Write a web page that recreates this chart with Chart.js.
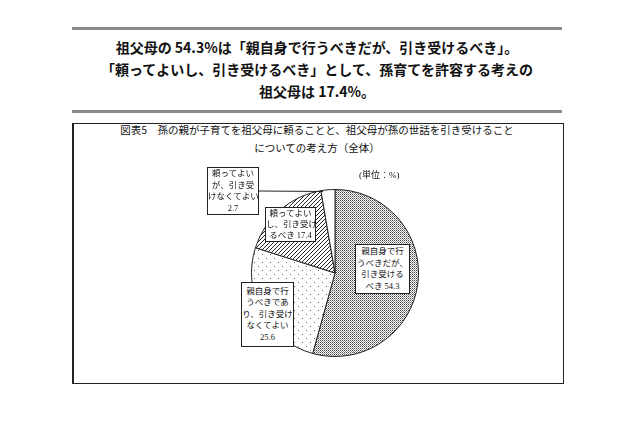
<!DOCTYPE html>
<html lang="ja">
<head>
<meta charset="utf-8">
<script src="https://cdn.jsdelivr.net/npm/chart.js@4"></script>
<style>
  body { margin: 0; background: #fff; width: 640px; height: 426px; position: relative; overflow: hidden;
         font-family: "Noto Sans CJK JP", "Noto Sans", sans-serif; color: #111; }
  .rule { position: absolute; left: 72px; width: 490px; height: 3px; background: #8a8a8a; }
  #headline { position: absolute; left: 72px; width: 490px; top: 36px; text-align: center;
              font-weight: bold; font-size: 14px; line-height: 22px; }
  #frame { position: absolute; left: 72px; top: 123px; width: 489px; height: 259px; border: 1px solid #222; border-left-width: 2px; }
  #fig-title { position: absolute; left: 72px; width: 490px; top: 121px; text-align: center;
               font-size: 10.5px; line-height: 18px; }
  #chart-wrap { position: absolute; left: 200px; top: 160px; width: 240px; height: 200px; }
  .lbl { position: absolute; background: #fff; border: 1px solid #222; box-sizing: border-box;
         font-family: "Liberation Serif", "Noto Sans CJK JP", serif; font-size: 8.5px; line-height: 11px;
         text-align: center; display: flex; flex-direction: column; justify-content: center; white-space: nowrap; }
  .lbl span { display: block; height: 11.5px; }
  #unit { position: absolute; font-family: "Liberation Serif", "Noto Sans CJK JP", serif; font-size: 9px; }
</style>
</head>
<body>
<div class="rule" style="top:27px"></div>
<div id="headline">祖父母の 54.3%は「親自身で行うべきだが、引き受けるべき」。<br>「頼ってよいし、引き受けるべき」として、孫育てを許容する考えの<br>祖父母は 17.4%。</div>
<div class="rule" style="top:110px"></div>
<div id="frame"></div>
<div id="fig-title">図表5　孫の親が子育てを祖父母に頼ることと、祖父母が孫の世話を引き受けること<br>についての考え方（全体）</div>
<div id="chart-wrap"><canvas id="pie"></canvas></div>
<div id="labels"></div>
<div id="unit">(単位：%)</div>
<script>
// slices clockwise from 12 o'clock
const categories = [
  '親自身で行うべきだが、引き受けるべき',
  '親自身で行うべきであり、引き受けなくてよい',
  '頼ってよいし、引き受けるべき',
  '頼ってよいが、引き受けなくてよい'
];
const shares = [54.3, 25.6, 17.4, 2.7];
const labelLines = [
  ['親自身で行', 'うべきだが、', '引き受ける', 'べき 54.3'],
  ['親自身で行', 'うべきであ', 'り、引き受け', 'なくてよい', '25.6'],
  ['頼ってよい', 'し、引き受け', 'るべき 17.4'],
  ['頼ってよい', 'が、引き受', 'けなくてよい', '2.7']
];

// label boxes relative to pie centre: [dx, dy, w, h]
const boxPos = [
  [20, -29, 55, 50],
  [-94, 9, 53, 65],
  [-70, -66, 51, 35],
  [-128, -106, 52, 48]
];

function makePattern(size, draw) {
  const c = document.createElement('canvas');
  c.width = c.height = size;
  const g = c.getContext('2d');
  g.fillStyle = '#fff';
  g.fillRect(0, 0, size, size);
  draw(g);
  return g.createPattern(c, 'repeat');
}

const denseDots = makePattern(2, g => { g.fillStyle = '#444'; g.fillRect(0, 0, 1, 1); g.fillStyle = '#999'; g.fillRect(1, 1, 1, 1); });
const sparseDots = makePattern(8, g => { g.fillStyle = '#666'; g.fillRect(2, 2, 1, 1); g.fillRect(6, 6, 1, 1); });
const hatch = makePattern(4, g => {
  g.strokeStyle = '#222'; g.lineWidth = 1;
  g.beginPath(); g.moveTo(-1, 5); g.lineTo(5, -1); g.stroke();
});

const labelsEl = document.getElementById('labels');
const boxes = labelLines.map(lines => {
  const d = document.createElement('div');
  d.className = 'lbl';
  d.innerHTML = lines.map(l => `<span>${l}</span>`).join('');
  labelsEl.appendChild(d);
  return d;
});

const calloutPlugin = {
  id: 'callouts',
  afterDraw(chart) {
    const arcs = chart.getDatasetMeta(0).data;
    if (!arcs.length) return;
    const wrap = document.getElementById('chart-wrap');
    const ox = wrap.offsetLeft, oy = wrap.offsetTop;
    const cx = arcs[0].x, cy = arcs[0].y;
    boxes.forEach((el, i) => {
      const [dx, dy, w, h] = boxPos[i];
      el.style.left = (ox + cx + dx) + 'px';
      el.style.top = (oy + cy + dy) + 'px';
      el.style.width = w + 'px';
      el.style.height = h + 'px';
    });
    const unit = document.getElementById('unit');
    unit.style.left = (ox + cx + 24) + 'px';
    unit.style.top = (oy + cy - 105) + 'px';

    // leader line for the small slice
    const a = arcs[3];
    const mid = (a.startAngle + a.endAngle) / 2;
    const ex = a.x + Math.cos(mid) * a.outerRadius * 0.98;
    const ey = a.y + Math.sin(mid) * a.outerRadius * 0.98;
    const [dx, dy, w, h] = boxPos[3];
    const ctx = chart.ctx;
    ctx.save();
    ctx.strokeStyle = '#222';
    ctx.lineWidth = 1;
    ctx.beginPath();
    ctx.moveTo(cx + dx + w, cy + dy + h / 2);
    ctx.lineTo(ex - 5, ey);
    ctx.stroke();
    ctx.restore();
  }
};

new Chart(document.getElementById('pie').getContext('2d'), {
  type: 'pie',
  data: {
    labels: categories,
    datasets: [{
      data: shares,
      backgroundColor: [denseDots, sparseDots, hatch, '#ffffff'],
      borderColor: '#222',
      borderWidth: 1
    }]
  },
  options: {
    responsive: true,
    maintainAspectRatio: false,
    animation: false,
    layout: { padding: { left: 51, right: 21, top: 29, bottom: 3 } },
    plugins: { legend: { display: false }, tooltip: { enabled: false } }
  },
  plugins: [calloutPlugin]
});
</script>
</body>
</html>
